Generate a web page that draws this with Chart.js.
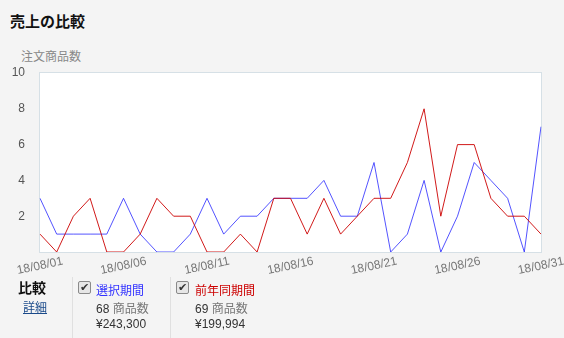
<!DOCTYPE html>
<html>
<head>
<meta charset="utf-8">
<script src="https://cdn.jsdelivr.net/npm/chart.js@4"></script>
<style>
    body { margin: 0; background: #f4f4f4; font-family: "Liberation Sans", "Noto Sans CJK JP", sans-serif; width: 564px; height: 338px; overflow: hidden; position: relative; }
    .abs { position: absolute; white-space: nowrap; }
    #title { left: 10px; top: 10px; font-size: 15px; font-weight: bold; color: #111; font-family: "Noto Sans CJK JP", sans-serif; }
    #ylabel { left: 21px; top: 47px; font-size: 12px; color: #888; font-family: "Noto Sans CJK JP", sans-serif; }
    #chartBox { left: 0; top: 0; width: 564px; height: 290px; }
    .sep { width: 1px; background: #e0e0e0; top: 277px; height: 61px; }
    .cb { width: 11px; height: 11px; border: 1px solid #8a8a8a; border-radius: 2px; background: #e6e6e6; font-size: 11px; line-height: 11px; text-align: center; color: #333; }
    .jp { font-family: "Liberation Sans", "Noto Sans CJK JP", sans-serif; font-size: 12px; }
</style>
</head>
<body>
<div id="title" class="abs">売上の比較</div>
<div id="ylabel" class="abs">注文商品数</div>
<div id="chartBox" class="abs"><canvas id="myChart" width="564" height="290"></canvas></div>

<div class="abs" style="left:18px; top:277px; font-size:14px; font-weight:bold; color:#111; font-family:'Noto Sans CJK JP',sans-serif;">比較</div>
<div class="abs jp" style="left:23px; top:298px; color:#1a4a8a; text-decoration:underline;">詳細</div>

<div class="abs sep" style="left:72px;"></div>
<div class="abs cb" style="left:78px; top:281px;">✔</div>
<div class="abs jp" style="left:96px; top:281px; color:#3333ff;">選択期間</div>
<div class="abs jp" style="left:96px; top:299px; color:#333;">68 <span style="color:#777">商品数</span></div>
<div class="abs jp" style="left:96px; top:317px; color:#333;">¥243,300</div>

<div class="abs sep" style="left:170px;"></div>
<div class="abs cb" style="left:176px; top:281px;">✔</div>
<div class="abs jp" style="left:195px; top:281px; color:#cc0000;">前年同期間</div>
<div class="abs jp" style="left:195px; top:299px; color:#333;">69 <span style="color:#777">商品数</span></div>
<div class="abs jp" style="left:195px; top:317px; color:#333;">¥199,994</div>

<script>
const days = [
    '18/08/01', '18/08/02', '18/08/03', '18/08/04', '18/08/05', '18/08/06', '18/08/07', '18/08/08',
    '18/08/09', '18/08/10', '18/08/11', '18/08/12', '18/08/13', '18/08/14', '18/08/15', '18/08/16',
    '18/08/17', '18/08/18', '18/08/19', '18/08/20', '18/08/21', '18/08/22', '18/08/23', '18/08/24',
    '18/08/25', '18/08/26', '18/08/27', '18/08/28', '18/08/29', '18/08/30', '18/08/31'
];
// 選択期間
const selected = [3, 1, 1, 1, 1, 3, 1, 0, 0, 1, 3, 1, 2, 2, 3, 3, 3, 4, 2, 2, 5, 0, 1, 4, 0, 2, 5, 4, 3, 0, 7];
// 前年同期間
const lastYear = [1, 0, 2, 3, 0, 0, 1, 3, 2, 2, 0, 0, 1, 0, 3, 3, 1, 3, 1, 2, 3, 3, 5, 8, 2, 6, 6, 3, 2, 2, 1];
const yTicks = [2, 4, 6, 8, 10];

// white plot area with thin border
const plotBg = {
    id: 'plotBg',
    beforeDraw(chart) {
        const { ctx, chartArea: a } = chart;
        ctx.save();
        ctx.fillStyle = '#fff';
        ctx.fillRect(a.left, a.top, a.right - a.left, a.bottom - a.top);
        ctx.strokeStyle = '#d6e0e6';
        ctx.lineWidth = 1;
        ctx.strokeRect(a.left - 0.5, a.top - 0.5, a.right - a.left + 1, a.bottom - a.top + 1);
        ctx.restore();
    }
};

// rotated date labels, centred on the tick
const dateLabels = {
    id: 'dateLabels',
    afterDraw(chart) {
        const { ctx, chartArea: a } = chart;
        const x = chart.scales.x;
        ctx.save();
        ctx.font = '12px "Liberation Sans", Arial, sans-serif';
        ctx.fillStyle = '#777';
        ctx.textAlign = 'center';
        ctx.textBaseline = 'middle';
        days.forEach(function (d, i) {
            if (i % 5 !== 0) return;
            ctx.save();
            ctx.translate(x.getPixelForValue(i), a.bottom + 14);
            ctx.rotate(-12 * Math.PI / 180);
            ctx.fillText(d, 0, 0);
            ctx.restore();
        });
        ctx.restore();
    }
};

const config = {
    type: 'line',
    data: {
        labels: days,
        datasets: [
            {
                label: '前年同期間',
                data: lastYear,
                borderColor: 'rgba(204, 0, 0, 0.9)',
                borderWidth: 1,
                pointRadius: 0,
                tension: 0,
                fill: false
            },
            {
                label: '選択期間',
                data: selected,
                borderColor: 'rgba(40, 40, 255, 0.8)',
                borderWidth: 1,
                pointRadius: 0,
                tension: 0,
                fill: false
            }
        ]
    },
    options: {
        responsive: false,
        animation: false,
        layout: {
            padding: { top: 73, right: 23, bottom: 0, left: 0 }
        },
        plugins: {
            legend: { display: false },
            tooltip: { enabled: false }
        },
        scales: {
            x: {
                grid: { display: false },
                border: { display: false },
                ticks: { display: false },
                afterFit: function (scale) { scale.height = 38; }
            },
            y: {
                min: 0,
                max: 10,
                grid: { display: false },
                border: { display: false },
                afterBuildTicks: function (scale) {
                    scale.ticks = yTicks.map(function (v) { return { value: v }; });
                },
                ticks: {
                    padding: 7,
                    color: '#555',
                    font: { family: '"Liberation Sans", Arial, sans-serif', size: 12 }
                },
                afterFit: function (scale) { scale.width = 40; }
            }
        }
    },
    plugins: [plotBg, dateLabels]
};

const myChart = new Chart(
    document.getElementById('myChart'),
    config
);
</script>
</body>
</html>
